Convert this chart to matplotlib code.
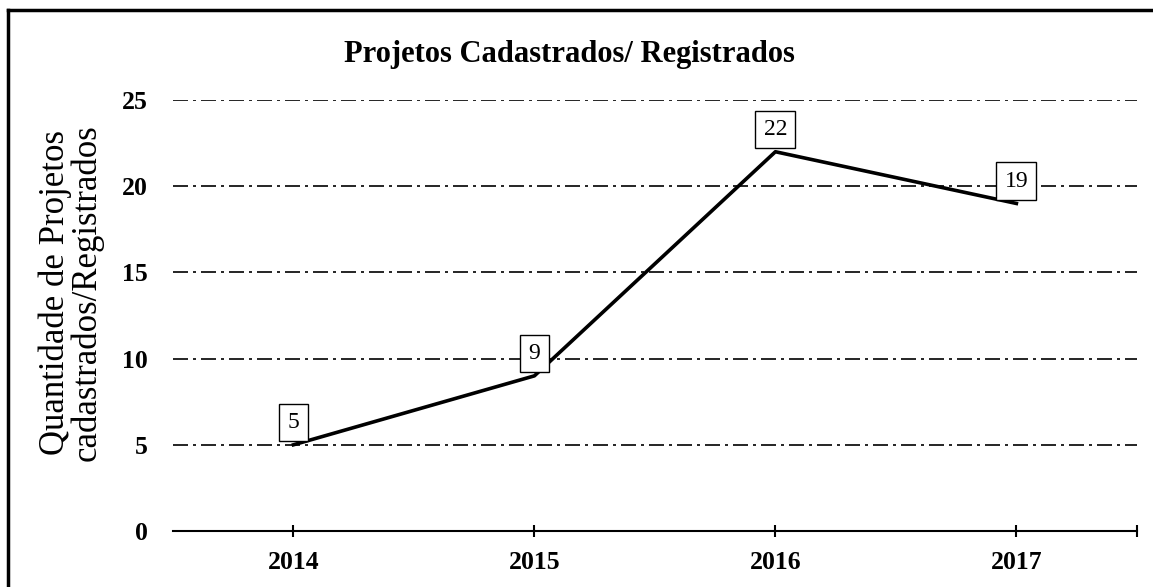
import matplotlib.pyplot as plt
from matplotlib.lines import Line2D

years = ["2014", "2015", "2016", "2017"]
projetos = [5, 9, 22, 19]
y_ticks = [0, 5, 10, 15, 20, 25]

plt.rcParams["font.family"] = ["Liberation Serif", "DejaVu Serif"]

fig = plt.figure(figsize=(11.53, 5.87), dpi=100)
ax = fig.add_axes([0.150, 0.0954, 0.836, 0.7342])

x = list(range(len(years)))
ax.plot(x, projetos, color="black", lw=2.6, zorder=3)

for xi, v in zip(x, projetos):
    ax.annotate(str(v), (xi, v), xytext=(0, 16), textcoords="offset points",
                ha="center", va="center", fontsize=17, zorder=4,
                bbox=dict(boxstyle="square,pad=0.35", fc="white", ec="black", lw=1))

ax.set_xlim(-0.5, len(years) - 0.5)
ax.set_ylim(0, 25)
ax.set_yticks(y_ticks)
ax.set_yticklabels([str(t) for t in y_ticks], fontsize=18.5, fontweight="bold")
ax.set_xticks(x + [len(years) - 0.5])
ax.set_xticklabels(years + [""], fontsize=18.5, fontweight="bold")

for t in y_ticks[1:]:
    ax.axhline(t, color="black", lw=1.2, linestyle=(0, (9, 3, 1.8, 3)), zorder=1)

for s in ["top", "right", "left"]:
    ax.spines[s].set_visible(False)
ax.spines["bottom"].set_linewidth(1.5)
ax.tick_params(axis="y", length=0, pad=18)
ax.tick_params(axis="x", direction="inout", length=9, width=1.5, pad=10)

fig.text(0.494, 0.908, "Projetos Cadastrados/ Registrados", ha="center", va="center",
         fontsize=22, fontweight="bold")
fig.text(0.0616, 0.501, "Quantidade de Projetos\ncadastrados/Registrados", ha="center",
         va="center", rotation=90, fontsize=25, linespacing=0.95)

# moldura (apenas topo e esquerda visíveis)
fig.add_artist(Line2D([0.007, 1.0], [0.983, 0.983], transform=fig.transFigure, color="black", lw=2.5))
fig.add_artist(Line2D([0.007, 0.007], [0.0, 0.983], transform=fig.transFigure, color="black", lw=2.5))

fig.savefig("out.png", dpi=100)
